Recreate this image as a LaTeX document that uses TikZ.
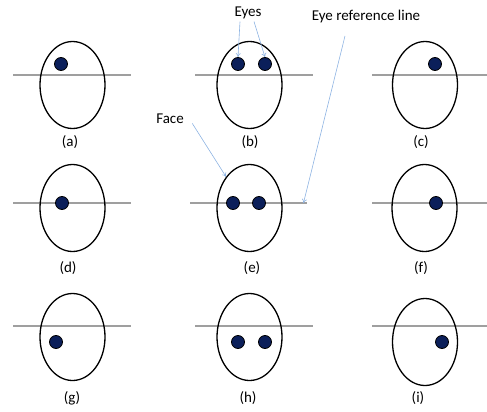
\documentclass[tikz,border=0pt]{standalone}
\usepackage{fontspec}
\setmainfont{Carlito}
\usetikzlibrary{arrows.meta,positioning,shapes.geometric}

\definecolor{eyenavy}{HTML}{0B1F5A}
\definecolor{noteblue}{HTML}{8DB3E2}

\begin{document}
\begin{tikzpicture}[
  x=1pt, y=-1pt,
  face/.style={
    draw,
    ellipse,
    line width=1.3pt,
    minimum width=65pt,
    minimum height=87pt,
    inner sep=0pt
  },
  eye/.style={circle, draw=black, fill=eyenavy, line width=0.8pt, minimum size=13pt, inner sep=0pt},
  refline/.style={draw=gray!75, line width=1.3pt},
  caption/.style={font=\fontsize{15}{17}\selectfont},
  note/.style={-{To[length=4pt,width=5pt]}, draw=noteblue, line width=0.6pt}
]
\useasboundingbox (0,0) rectangle (487,412);

% Top row
\draw[refline] (13,75) -- (131,75);
\draw[refline] (195,75) -- (313,75);
\draw[refline] (372,75) -- (487,75);
\node[face] (face_a) at (72.5,85) {};
\node[face] (face_b) at (249.5,85) {};
\node[face] (face_c) at (425,85) {};
\node[eye] (eye_a) at (61,64) {};
\node[eye] (eye_b1) at (238,64) {};
\node[eye] (eye_b2) at (265,64) {};
\node[eye] (eye_c) at (435,64) {};
\node[caption] (cap_a) at (70,142) {(a)};
\node[caption] (cap_b) at (250,142) {(b)};
\node[caption] (cap_c) at (421,142) {(c)};

% Middle row
\draw[refline] (13,203) -- (131,203);
\draw[refline] (190,203) -- coordinate[pos=0.97] (refend) (307,203);
\draw[refline] (372,203) -- (487,203);
\node[face] (face_d) at (72.5,208) {};
\node[face] (face_e) at (249.5,208) {};
\node[face] (face_f) at (424.5,208) {};
\node[eye] (eye_d) at (62,203) {};
\node[eye] (eye_e1) at (233,203) {};
\node[eye] (eye_e2) at (259,203) {};
\node[eye] (eye_f) at (436,203) {};
\node[caption] (cap_d) at (68,268) {(d)};
\node[caption] (cap_e) at (252,268) {(e)};
\node[caption] (cap_f) at (421,268) {(f)};

% Bottom row
\draw[refline] (13,326) -- (131,326);
\draw[refline] (195,326) -- (313,326);
\draw[refline] (372,326) -- (487,326);
\node[face] (face_g) at (72.5,337) {};
\node[face] (face_h) at (249.5,337) {};
\node[face] (face_i) at (425,342) {};
\node[eye] (eye_g) at (56,342) {};
\node[eye] (eye_h1) at (238,342) {};
\node[eye] (eye_h2) at (265,342) {};
\node[eye] (eye_i) at (442,342) {};
\node[caption] (cap_g) at (72,398) {(g)};
\node[caption] (cap_h) at (248,398) {(h)};
\node[caption] (cap_i) at (418,398) {(i)};

% Annotations
\node[caption] (eyes_txt) at (248,13) {Eyes};
\node[caption] (ref_txt) at (366,17) {Eye reference line};
\node[caption] (face_txt) at (170,119) {Face};

\draw[note] (eyes_txt.south) ++(-8,-1) -- (eye_b1.north);
\draw[note] (eyes_txt.south) ++(6,-1) -- (eye_b2.north);
\draw[note] (face_txt.south east) ++(5,-4) -- (face_e.north west);
\draw[note] (ref_txt.south) ++(-21,9) -- (refend);

\end{tikzpicture}
\end{document}
